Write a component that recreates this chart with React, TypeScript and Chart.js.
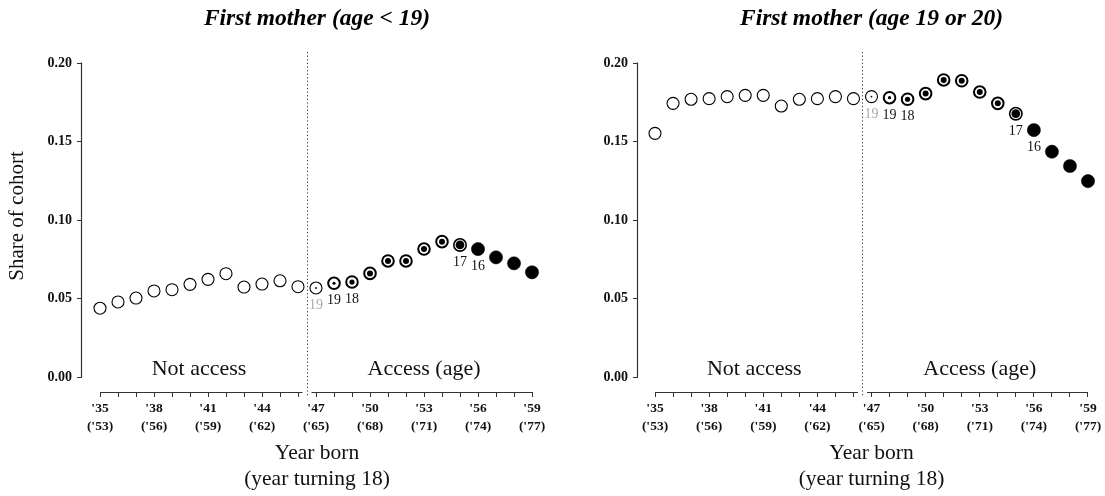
import React, { useEffect, useRef } from 'react';
import { Chart, registerables } from 'chart.js';

Chart.register(...registerables);

// ---------- data ----------
const YEARS = [
  1935, 1936, 1937, 1938, 1939, 1940, 1941, 1942, 1943, 1944, 1945, 1946,
  1947, 1948, 1949, 1950, 1951, 1952, 1953, 1954, 1955, 1956, 1957, 1958, 1959,
];

const SHARE_UNDER_19 = [
  0.0438, 0.0478, 0.0503, 0.0548, 0.0556, 0.059, 0.0622, 0.0658, 0.0573, 0.0592, 0.0613, 0.0575,
  0.0567, 0.0597, 0.0605, 0.066, 0.0739, 0.0739, 0.0815, 0.0862, 0.0841, 0.0815, 0.0762, 0.0724, 0.0667,
];

const SHARE_19_20 = [
  0.1552, 0.1743, 0.1769, 0.1773, 0.1786, 0.1794, 0.1794, 0.1726, 0.1769, 0.1773, 0.1786, 0.1773,
  0.1786, 0.1779, 0.1769, 0.1805, 0.1892, 0.1887, 0.1815, 0.1743, 0.1677, 0.1573, 0.1435, 0.1344, 0.1248,
];

const Y_TICKS = [0, 0.05, 0.1, 0.15, 0.2];
const X_LABEL_STEP = 3;
const POLICY_BREAK = 1946.5;

const AGE_LABELS = [
  { year: 1947, text: '19', muted: true },
  { year: 1948, text: '19', muted: false },
  { year: 1949, text: '18', muted: false },
  { year: 1955, text: '17', muted: false },
  { year: 1956, text: '16', muted: false },
];

const REGION_LABELS = [
  { year: 1940.5, text: 'Not access' },
  { year: 1953, text: 'Access (age)' },
];

const TITLE_LEFT = 'First mother (age < 19)';
const TITLE_RIGHT = 'First mother (age 19 or 20)';
const Y_TITLE = 'Share of cohort';
const X_TITLE = ['Year born', '(year turning 18)'];

// ---------- styles ----------
const FONT = '"Liberation Serif", "Times New Roman", serif';
const H = 496;

function markerFor(year: number) {
  if (year < 1947) return { r: 6, fill: '#ffffff', bw: 1.1, dot: 0 };
  if (year === 1947) return { r: 6, fill: '#ffffff', bw: 1.1, dot: 0.9 };
  if (year === 1948) return { r: 5.8, fill: '#ffffff', bw: 2, dot: 1.6 };
  if (year === 1949) return { r: 5.8, fill: '#ffffff', bw: 2, dot: 2.6 };
  if (year <= 1954) return { r: 5.8, fill: '#ffffff', bw: 2, dot: 3 };
  if (year === 1955) return { r: 6.2, fill: '#ffffff', bw: 1.6, dot: 4.4 };
  return { r: 6.6, fill: '#000000', bw: 0.5, dot: 0 };
}

const decorPlugin = {
  id: 'decor',
  beforeDatasetsDraw(chart: any) {
    const { ctx, chartArea } = chart;
    const xs = chart.scales.x;
    const ys = chart.scales.y;
    const first = xs.getPixelForValue(YEARS[0]);
    const last = xs.getPixelForValue(YEARS[YEARS.length - 1]);
    const brk = xs.getPixelForValue(POLICY_BREAK);
    ctx.save();
    ctx.strokeStyle = '#333';
    ctx.lineWidth = 1.2;
    // x axis line (broken at the policy line)
    const yb = Math.round(chartArea.bottom) + 0.5;
    ctx.beginPath();
    ctx.moveTo(first, yb);
    ctx.lineTo(brk - 4.5, yb);
    ctx.moveTo(brk + 4.5, yb);
    ctx.lineTo(last, yb);
    ctx.stroke();
    // y axis line
    const xl = Math.round(chartArea.left) - 0.5;
    ctx.beginPath();
    ctx.moveTo(xl, ys.getPixelForValue(Y_TICKS[0]) + 0.5);
    ctx.lineTo(xl, ys.getPixelForValue(Y_TICKS[Y_TICKS.length - 1]) - 0.5);
    ctx.stroke();
    // dotted policy line
    ctx.strokeStyle = '#333';
    ctx.lineWidth = 1;
    ctx.setLineDash([1.2, 2.4]);
    ctx.beginPath();
    ctx.moveTo(Math.round(brk) + 0.5, chartArea.top - 11);
    ctx.lineTo(Math.round(brk) + 0.5, chartArea.bottom + 5);
    ctx.stroke();
    ctx.restore();
  },
  afterDatasetsDraw(chart: any, _args: any, opts: any) {
    const { ctx } = chart;
    const xs = chart.scales.x;
    const ys = chart.scales.y;
    const values: number[] = chart.data.datasets[1].data.map((d: any) => d.y);
    ctx.save();
    ctx.textAlign = 'center';
    ctx.textBaseline = 'middle';
    ctx.font = `14px ${FONT}`;
    AGE_LABELS.forEach((l) => {
      const i = YEARS.indexOf(l.year);
      ctx.fillStyle = l.muted ? '#aaaaaa' : '#111111';
      ctx.fillText(l.text, xs.getPixelForValue(l.year), ys.getPixelForValue(values[i]) + 17.5);
    });
    ctx.font = `22px ${FONT}`;
    ctx.fillStyle = '#111111';
    ctx.textBaseline = 'alphabetic';
    REGION_LABELS.forEach((l) => {
      ctx.fillText(l.text, xs.getPixelForValue(l.year), ys.getPixelForValue(0) - 2);
    });
    if (opts && opts.yTitle) {
      ctx.save();
      ctx.translate(17, 216);
      ctx.rotate(-Math.PI / 2);
      ctx.font = `21px ${FONT}`;
      ctx.textBaseline = 'middle';
      ctx.fillText(opts.yTitle, 0, 0);
      ctx.restore();
    }
    ctx.restore();
  },
};

type PanelProps = {
  values: number[];
  title: string;
  showYTitle: boolean;
  width: number;
  areaLeft: number;
  p35: number;
  p59: number;
};

function Panel({ values, title, showYTitle, width, areaLeft, p35, p59 }: PanelProps) {
  const ref = useRef<HTMLCanvasElement>(null);
  useEffect(() => {
    if (!ref.current) return;
    const perYear = (p59 - p35) / (YEARS[YEARS.length - 1] - YEARS[0]);
    const xMin = YEARS[0] - (p35 - areaLeft) / perYear;
    const xMax = YEARS[YEARS.length - 1] + (width - p59) / perYear;
    const yTop = 63;
    const yZero = 377;
    const yBottom = 392;
    const perUnit = (yZero - yTop) / 0.2;
    const yMin = -(yBottom - yZero) / perUnit;

    const markers = YEARS.map(markerFor);
    const pts = YEARS.map((y, i) => ({ x: y, y: values[i] }));
    const titleLH = 23.5 * 1.2;
    const titleCenter = 19;

    const chart = new Chart(ref.current, {
      type: 'scatter',
      data: {
        datasets: [
          {
            label: 'access',
            data: pts,
            pointRadius: markers.map((m) => m.dot),
            pointHoverRadius: markers.map((m) => m.dot),
            pointBackgroundColor: '#000000',
            pointBorderWidth: 0,
            pointBorderColor: '#000000',
            showLine: false,
            clip: false,
          } as any,
          {
            label: 'share',
            data: pts,
            pointRadius: markers.map((m) => m.r),
            pointHoverRadius: markers.map((m) => m.r),
            pointBackgroundColor: markers.map((m) => m.fill),
            pointBorderColor: '#000000',
            pointBorderWidth: markers.map((m) => m.bw),
            showLine: false,
            clip: false,
          } as any,
        ],
      },
      options: {
        animation: false,
        responsive: false,
        devicePixelRatio: 1,
        events: [],
        layout: { padding: 0, autoPadding: false },
        plugins: {
          legend: { display: false },
          tooltip: { enabled: false },
          decor: { yTitle: showYTitle ? Y_TITLE : '' },
          title: {
            display: true,
            text: title,
            fullSize: false,
            color: '#000000',
            font: { family: FONT, size: 23.5, style: 'italic', weight: 'bold', lineHeight: 1.2 },
            padding: { top: titleCenter - titleLH / 2, bottom: yTop - (titleCenter + titleLH / 2) },
          },
        },
        scales: {
          x: {
            type: 'linear',
            min: xMin,
            max: xMax,
            afterFit: (s: any) => {
              s.height = H - yBottom;
              s.paddingLeft = 0;
              s.paddingRight = 0;
            },
            afterBuildTicks: (s: any) => {
              s.ticks = YEARS.map((v) => ({ value: v }));
            },
            grid: { display: true, drawOnChartArea: false, drawTicks: true, tickLength: 5, color: '#333', lineWidth: 1 },
            border: { display: false },
            ticks: {
              autoSkip: false,
              maxRotation: 0,
              minRotation: 0,
              padding: 2,
              color: '#111',
              font: { family: FONT, size: 13.5, weight: 'bold', lineHeight: 1.35 },
              callback: (v: any) => {
                const yr = Number(v);
                if ((yr - YEARS[0]) % X_LABEL_STEP !== 0) return '';
                const yy = String(yr % 100).padStart(2, '0');
                const y18 = String((yr + 18) % 100).padStart(2, '0');
                return [`'${yy}`, `('${y18})`];
              },
            },
            title: {
              display: true,
              text: X_TITLE,
              color: '#111',
              font: { family: FONT, size: 21.5, lineHeight: 1.2 },
              padding: { top: 0, bottom: 4 },
            },
          },
          y: {
            type: 'linear',
            min: yMin,
            max: 0.2,
            afterFit: (s: any) => {
              s.width = areaLeft;
              s.paddingTop = 0;
              s.paddingBottom = 0;
            },
            afterBuildTicks: (s: any) => {
              s.ticks = Y_TICKS.map((v) => ({ value: v }));
            },
            grid: { display: true, drawOnChartArea: false, drawTicks: true, tickLength: 5, color: '#333', lineWidth: 1 },
            border: { display: false },
            ticks: {
              padding: 5,
              color: '#111',
              font: { family: FONT, size: 14, weight: 'bold' },
              callback: (v: any) => Number(v).toFixed(2),
            },
            title: { display: false },
          },
        },
      } as any,
      plugins: [decorPlugin as any],
    });
    return () => chart.destroy();
  }, [values, title, showYTitle, width, areaLeft, p35, p59]);
  return <canvas ref={ref} width={width} height={H} style={{ display: 'block' }} />;
}

export default function App() {
  return (
    <div
      style={{
        position: 'absolute',
        left: 0,
        top: 0,
        width: 1105,
        height: H,
        display: 'flex',
        background: '#ffffff',
      }}
    >
      <Panel values={SHARE_UNDER_19} title={TITLE_LEFT} showYTitle={true} width={552} areaLeft={82} p35={100} p59={532} />
      <Panel values={SHARE_19_20} title={TITLE_RIGHT} showYTitle={false} width={553} areaLeft={86} p35={103} p59={536} />
    </div>
  );
}
